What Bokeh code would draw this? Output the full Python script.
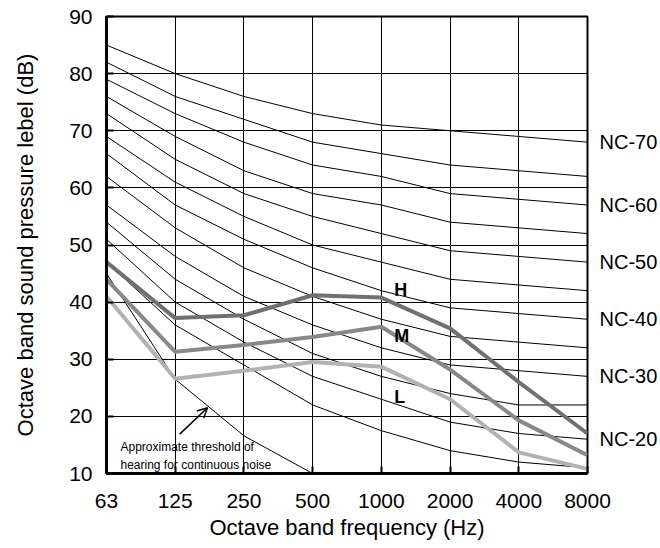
from bokeh.plotting import figure
from bokeh.models import Range1d, FixedTicker, Label, Arrow, OpenHead, LinearAxis
from bokeh.embed import file_html
from bokeh.resources import INLINE

# ---- data ----
freq_labels = ["63", "125", "250", "500", "1000", "2000", "4000", "8000"]
nc70 = [85, 80, 76, 73, 71, 70, 69, 68]
nc65 = [82, 76, 72, 68, 66, 64, 63, 62]
nc60 = [79, 73, 68, 64, 62, 59, 58, 57]
nc55 = [76, 69, 63, 59, 57, 54, 53, 52]
nc50 = [73, 65, 59, 55, 52, 49, 48, 47]
nc45 = [69, 61, 55, 50, 47, 44, 43, 42]
nc40 = [66, 57, 51, 46, 42, 39, 38, 37]
nc35 = [62, 53, 46, 41, 37, 34, 33, 32]
nc30 = [57, 48, 41, 36, 32, 29, 28, 27]
nc25 = [54, 44, 37, 31, 27, 24, 22, 22]
nc20 = [51, 40, 33, 27, 23, 19, 17, 16]
nc15 = [47, 36, 29, 22, 17.5, 14, 12, 11]
nc_names = ["NC-70", "NC-60", "NC-50", "NC-40", "NC-30", "NC-20"]
spec_H = [47, 37.2, 37.7, 41.2, 40.8, 35.4, 26, 17]
spec_M = [44, 31.3, 32.5, 33.9, 35.7, 28.2, 19.3, 13.2]
spec_L = [41, 26.6, 28, 29.5, 28.7, 23, 13.7, 10.8]
threshold = [45, 26.5, 16.6, 10]
spec_names = ["H", "M", "L"]
spec_label_y = [42.1, 34.0, 23.4]

FONT = "Liberation Sans"
idx = list(range(len(freq_labels)))

p = figure(width=660, height=548, x_range=Range1d(0, 7), y_range=Range1d(10, 90),
           output_backend="svg", toolbar_location=None,
           min_border_left=106, min_border_right=67, min_border_top=16, min_border_bottom=75)
p.background_fill_color = "white"
p.border_fill_color = "white"
p.outline_line_color = "black"
p.outline_line_width = 2

p.xaxis.ticker = FixedTicker(ticks=idx)
p.xaxis.major_label_overrides = {i: s for i, s in zip(idx, freq_labels)}
p.yaxis.ticker = FixedTicker(ticks=list(range(10, 91, 10)))
for ax in (p.xaxis[0], p.yaxis[0]):
    ax.axis_line_width = 3
    ax.axis_line_color = "black"
    ax.major_tick_in = 7
    ax.major_tick_out = 0
    ax.major_tick_line_width = 2
    ax.minor_tick_line_color = None
    ax.major_label_text_font = FONT
    ax.major_label_text_font_size = "21px"
    ax.major_label_text_color = "black"
    ax.axis_label_text_font = FONT
    ax.axis_label_text_font_size = "22px"
    ax.axis_label_text_font_style = "normal"
    ax.axis_label_text_color = "black"
p.xaxis.axis_label = "Octave band frequency (Hz)"
p.yaxis.axis_label = "Octave band sound pressure lebel (dB)"
p.xaxis.major_label_standoff = 20
p.xaxis.axis_label_standoff = 4
p.yaxis.major_label_standoff = 14
p.yaxis.axis_label_standoff = 28

# right-hand NC labels as an axis (outside the frame)
nc_ends = [c[-1] for c in [nc70, nc60, nc50, nc40, nc30, nc20]]
rax = LinearAxis(ticker=FixedTicker(ticks=nc_ends),
                 major_label_overrides={v: n for v, n in zip(nc_ends, nc_names)},
                 axis_line_color=None, major_tick_line_color=None,
                 minor_tick_line_color=None, major_label_standoff=6,
                 major_label_text_font=FONT, major_label_text_font_size="20px",
                 major_label_text_color="black")
p.add_layout(rax, "right")

p.xgrid.grid_line_color = "black"
p.ygrid.grid_line_color = "black"
p.xgrid.grid_line_width = 1
p.ygrid.grid_line_width = 1

# NC curves
for curve in [nc70, nc65, nc60, nc55, nc50, nc45, nc40, nc35, nc30, nc25, nc20, nc15]:
    p.line(idx, curve, line_color="black", line_width=1)

# threshold of hearing
p.line(idx[:len(threshold)], threshold, line_color="black", line_width=1)

# spectra
for vals, col in [(spec_L, "#b2b2b2"), (spec_M, "#888888"), (spec_H, "#707070")]:
    p.line(idx, vals, line_color=col, line_width=4)

for name, yv in zip(spec_names, spec_label_y):
    p.add_layout(Label(x=idx[4], y=yv, x_offset=13, text=name,
                       text_font=FONT, text_font_size="18px", text_font_style="bold",
                       text_color="black", text_baseline="middle", text_align="left"))

p.add_layout(Label(x=idx[0], y=14.6, x_offset=14, text="Approximate threshold of",
                   text_font=FONT, text_font_size="12px", text_color="black",
                   text_baseline="middle", text_align="left"))
p.add_layout(Label(x=idx[0], y=11.5, x_offset=14, text="hearing for continuous noise",
                   text_font=FONT, text_font_size="12px", text_color="black",
                   text_baseline="middle", text_align="left"))
p.add_layout(Arrow(end=OpenHead(size=10, line_width=1.5, line_color="black"),
                   x_start=1.065, y_start=16.9, x_end=1.47, y_end=21.5,
                   line_width=1.5, line_color="black"))

open("out.html", "w").write(file_html(p, INLINE))
